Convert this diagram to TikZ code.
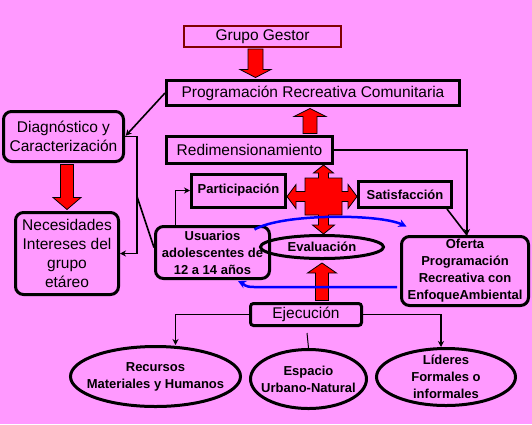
\documentclass[tikz,border=0pt]{standalone}
\usepackage{fontspec}
\setmainfont{Liberation Sans}
\usetikzlibrary{shapes.geometric,arrows.meta,calc}
\definecolor{bgpink}{HTML}{FF99FF}
\definecolor{gestorred}{HTML}{800000}
\definecolor{lineblue}{HTML}{0000FF}
\definecolor{arrred}{HTML}{FF0000}
\newcommand\myreg{\fontsize{15.5}{19}\selectfont}
\newcommand\mybold{\bfseries\fontsize{13}{17}\selectfont}
\newcommand\blockarrow[5]{%
  \path (#1) coordinate (baX) (#2) coordinate (btX);
  \path ($(btX)!#5!(baX)$) coordinate (bhX);
  \filldraw[blockarr] ($(baX)!#3!90:(btX)$) -- ($(bhX)!#3!90:(btX)$) -- ($(bhX)!#4!90:(btX)$) -- (btX) -- ($(bhX)!#4!-90:(btX)$) -- ($(bhX)!#3!-90:(btX)$) -- ($(baX)!#3!-90:(btX)$) -- cycle;
}
\tikzset{
  box/.style={draw=black, line width=3pt, rectangle, inner sep=0pt, align=center, font=\myreg},
  rbox/.style={box, rounded corners=8pt},
  oval/.style={draw=black, line width=3pt, ellipse, inner sep=-14pt, align=center, font=\mybold},
  conn/.style={draw=black, line width=1.6pt, -{Stealth[length=6pt,width=6pt]}},
  plainline/.style={draw=black, line width=1.6pt},
  blockarr/.style={fill=arrred, draw=black, line width=0.8pt},
  bluearr/.style={draw=lineblue, line width=2.5pt, -{Stealth[length=8pt,width=8pt]}},
}
\begin{document}
\begin{tikzpicture}[x=1pt,y=-1pt]
\fill[bgpink] (0,0) rectangle (532,424);
\useasboundingbox (0,0) rectangle (532,424);

% boxes
\node[box, draw=gestorred, line width=2pt, minimum width=157pt, minimum height=21pt] (gg) at (262.5,36.5) {Grupo Gestor};
\node[box, minimum width=293pt, minimum height=25pt] (prc) at (313,93) {Programación Recreativa Comunitaria};
\node[box, minimum width=166pt, minimum height=27pt] (redim) at (249.5,150) {Redimensionamiento};
\node[rbox, minimum width=120pt, minimum height=50pt] (diag) at (63.5,136.5) {Diagnóstico y\\Caracterización};
\node[rbox, minimum width=103pt, minimum height=82pt] (nec) at (67,253.5) {Necesidades\\Intereses del\\grupo\\etáreo};
\node[box, font=\mybold, minimum width=94pt, minimum height=33pt] (part) at (238.5,190.5) {Participación};
\node[box, font=\mybold, minimum width=93pt, minimum height=26pt] (sat) at (405,194.5) {Satisfacción};
\node[rbox, font=\mybold, minimum width=114pt, minimum height=52pt] (usu) at (212.5,252.5) {Usuarios\\adolescentes de\\12 a 14 años};
\node[oval, inner sep=0pt, minimum width=123pt, minimum height=23pt] (eval) at (322,247) {Evaluación};
\node[rbox, font=\mybold, minimum width=127pt, minimum height=69pt] (oferta) at (465,271) {Oferta\\Programación\\Recreativa con\\EnfoqueAmbiental};
\node[box, rounded corners=3pt, minimum width=111pt, minimum height=22pt] (ejec) at (306,314.5) {Ejecución};
\node[oval, minimum width=170pt, minimum height=60pt] (rec) at (155.5,376.5) {Recursos\\Materiales y Humanos};
\node[oval, minimum width=116pt, minimum height=59pt] (esp) at (308.5,379) {Espacio\\Urbano-Natural};
\node[oval, minimum width=139pt, minimum height=57pt] (lid) at (446,377) {Líderes\\Formales o\\informales};
\node[inner sep=0pt, minimum size=37pt] (cross) at (323.5,196.5) {};

% red block arrows
\coordinate (a1s) at ($(gg.south)+(-7,1)$);
\coordinate (a1b) at (a1s |- prc.north);
\coordinate (a1t) at ($(a1b)+(0,-1.5)$);
\blockarrow{a1s}{a1t}{7.5pt}{15.5pt}{8pt}

\coordinate (a2s) at ($(redim.north)+(60.5,-1.5)$);
\coordinate (a2b) at (a2s |- prc.south);
\coordinate (a2t) at ($(a2b)+(0,1.5)$);
\blockarrow{a2s}{a2t}{7pt}{16pt}{8pt}

\coordinate (a3s) at ($(diag.south)+(3.5,1.5)$);
\coordinate (a3b) at (a3s |- nec.north);
\coordinate (a3t) at ($(a3b)+(0,-1.5)$);
\blockarrow{a3s}{a3t}{6.5pt}{14pt}{12pt}

\coordinate (a4b) at (eval.south |- ejec.north);
\coordinate (a4s) at ($(a4b)+(0,-1.5)$);
\coordinate (a4t) at ($(eval.south)+(0,3)$);
\blockarrow{a4s}{a4t}{6.5pt}{14.5pt}{10pt}

% four-way cross
\filldraw[blockarr] let \p0=(cross.center), \p1=(redim.south), \p2=(part.east), \p3=(sat.west), \p4=(eval.north) in
 (\x0,\y1) -- (\x0+10pt,\y1-8pt) -- (\x0+5pt,\y1-8pt) -- (\x0+5pt,\y0+18.5pt) -- (\x0+18.5pt,\y0+18.5pt) -- (\x0+18.5pt,\y0+5pt)
 -- (\x3-9pt,\y0+5pt) -- (\x3-9pt,\y0+12pt) -- (\x3,\y0) -- (\x3-9pt,\y0-12pt) -- (\x3-9pt,\y0-5pt)
 -- (\x0+18.5pt,\y0-5pt) -- (\x0+18.5pt,\y0-18.5pt) -- (\x0+5pt,\y0-18.5pt)
 -- (\x0+5pt,\y4+9pt) -- (\x0+11pt,\y4+9pt) -- (\x0,\y4) -- (\x0-11pt,\y4+9pt) -- (\x0-5pt,\y4+9pt)
 -- (\x0-5pt,\y0-18.5pt) -- (\x0-18.5pt,\y0-18.5pt) -- (\x0-18.5pt,\y0-5pt)
 -- (\x2+9pt,\y0-5pt) -- (\x2+9pt,\y0-12pt) -- (\x2,\y0) -- (\x2+9pt,\y0+12pt) -- (\x2+9pt,\y0+5pt)
 -- (\x0-18.5pt,\y0+5pt) -- (\x0-18.5pt,\y0+18.5pt) -- (\x0-5pt,\y0+18.5pt)
 -- (\x0-5pt,\y1-8pt) -- (\x0-10pt,\y1-8pt) -- cycle;

% thin connectors
\draw[conn, shorten >=1pt] (prc.west) -- (diag.east);
\draw[conn] (diag.east) -- ++(12,0) coordinate (vtop) |- (nec.east);
\coordinate (vj) at ($(vtop)+(0,60)$);
\draw[plainline] (vj) -- ($(usu.west)+(0,-5)$);
\draw[conn] ($(usu.north)+(-37,0)$) |- (part.west);
\coordinate (ofin) at ($(oferta.north)+(2,0)$);
\draw[conn] (redim.east) -| (ofin);
\draw[plainline] ($(sat.south east)+(-6,0)$) -- (ofin);
\draw[conn] (ejec.west) -| ($(rec.north)+(20,0)$);
\draw[conn] (ejec.east) -| ($(lid.north)+(-5,0)$);
\draw[plainline, line width=1pt] ($(ejec.south)+(1,6)$) -- (esp.north);

% blue feedback arrows
\coordinate (bu1) at ($(usu.north east)+(-16.5,4.5)$);
\coordinate (bu2) at ($(oferta.north west)+(6.5,-8.5)$);
\draw[bluearr] (bu1) .. controls ($(bu1)+(27,-16)$) and ($(bu2)+(-28,-13)$) .. (bu2);
\coordinate (bl1) at ($(oferta.west)+(-3,16)$);
\coordinate (blm) at ($(bl1)+(-143,0)$);
\coordinate (bl2) at ($(usu.south east)+(-33,1)$);
\draw[bluearr] (bl1) -- (blm) .. controls ($(blm)+(-10,0)$) and ($(bl2)+(6,3)$) .. (bl2);
\end{tikzpicture}
\end{document}
